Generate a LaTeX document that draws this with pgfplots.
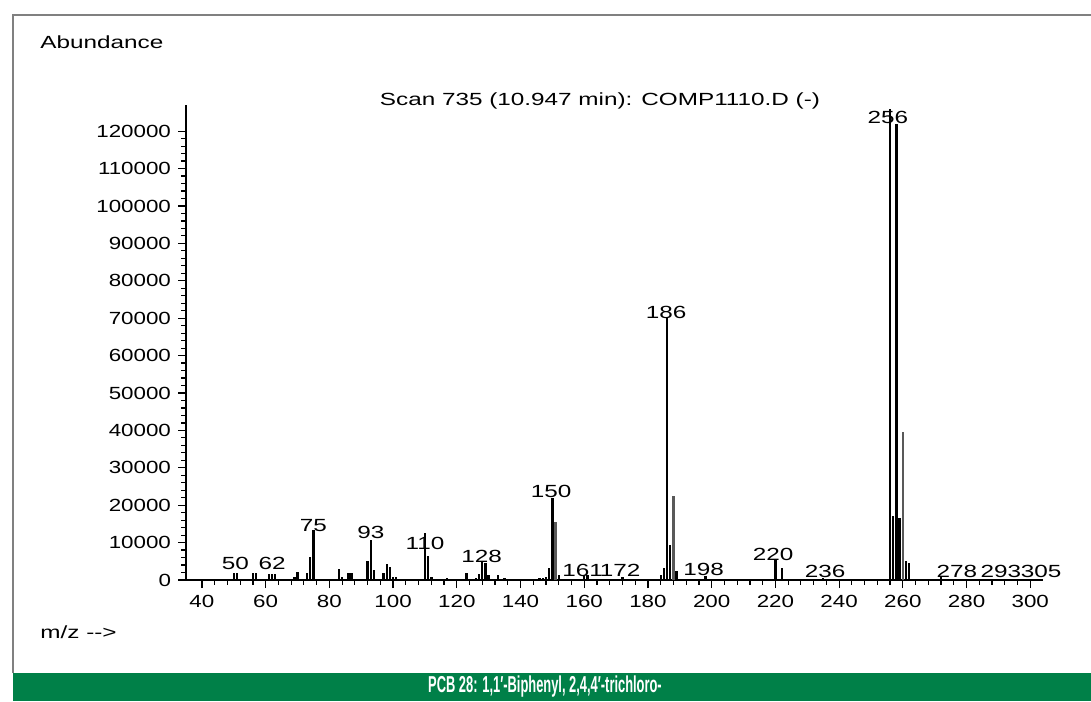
\documentclass[border=0pt]{standalone}
\usepackage{fontspec}
\setmainfont{Liberation Sans}
\usepackage{graphicx}
\usepackage{pgfplots}
\pgfplotsset{compat=1.18}
\definecolor{bannergreen}{RGB}{0,128,72}
\newcommand{\wt}[2][1.38]{\scalebox{#1}[1]{#2}}
\newcommand{\lab}{\fontsize{8.8}{10}\selectfont}

\begin{document}
\begin{tikzpicture}
  \path[use as bounding box] (0,0) rectangle (545.5pt,350.5pt);
  % frame and banner
  \fill[bannergreen] (6.5pt,0) rectangle (545.5pt,14pt);
  \draw[gray, line width=0.6pt] (6.5pt,14pt) -- (6.5pt,343pt) -- (545.5pt,343pt);
  \node[text=white, font=\bfseries\fontsize{11.5}{12}\selectfont] at (272.5pt,7.3pt)
    {\wt[0.56]{PCB 28: 1,1′-Biphenyl, 2,4,4′-trichloro-}};
  \node[anchor=west, inner sep=0pt, font=\lab] at (20pt,329.5pt) {\wt{Abundance}};
  \node[anchor=west, inner sep=0pt, font=\lab] at (20pt,34.5pt) {\wt{m/z -{}->}};
  \node[font=\lab] at (300pt,300pt) {\wt{Scan 735 (10.947 min): COMP1110.D (-)}};

  \begin{axis}[
    at={(93pt,60.5pt)}, anchor=south west, scale only axis,
    width=428.5pt, height=237.5pt,
    xmin=35, xmax=304, ymin=0, ymax=127000,
    axis x line*=bottom, axis y line*=left,
    axis line style={black, line width=0.8pt},
    xtick={40,60,...,300}, ytick={0,10000,...,120000},
    minor x tick num=4, minor y tick num=4,
    tick align=outside, major tick length=4pt, minor tick length=2.5pt,
    tick style={black, line width=0.6pt},
    tick label style={font=\lab},
    xticklabel={\wt[1.27]{\pgfmathprintnumber{\tick}}},
    yticklabel={\wt[1.27]{\pgfmathprintnumber{\tick}}},
    scaled y ticks=false,
    /pgf/number format/.cd, 1000 sep={}, fixed, assume math mode=true,
  ]
    % peaks (black)
    \addplot[ycomb, black, line width=1.2pt] coordinates {
      (50,1800) (51,1800) (56,1800) (57,1800) (61,1600) (62,1600) (63,1600)
      (69,900) (70,2100) (73,1800) (74,6200) (75,13400)
      (83,3000) (84,800) (86,1800) (87,1800)
      (92,5100) (93,10700) (94,2700) (97,2000) (98,4400) (99,3600) (100,800) (101,700)
      (110,12500) (111,6300) (112,700) (117,500)
      (123,2000) (126,600) (127,1500) (128,4900) (129,4500) (130,1400) (133,1300) (135,600)
      (146,600) (147,600) (148,800) (149,3200) (150,21900) (152,1300)
      (160,1300) (161,1300) (172,800)
      (184,1300) (185,3200) (186,70000) (187,9400) (189,2500)
      (198,1000) (220,5300) (222,3100) (230,400) (235,500)
      (256,126000) (257,17000) (258,122000) (259,16500) (261,5200) (262,4500)
      (272,700) (278,400) (293,300) (305,300)
    };
    % peaks (grey)
    \addplot[ycomb, black!65, line width=1.2pt] coordinates {
      (151,15600) (188,22400) (260,39500)
    };
    % peak labels
    \addplot[draw=none, mark=none, nodes near coords={\wt{\pgfplotspointmeta}},
      point meta=explicit symbolic,
      nodes near coords style={anchor=south, inner sep=0pt, font=\lab}] coordinates {
      (50.5,2600)[50] (62,2600)[62] (75,12800)[75] (93,11000)[93]
      (110,8000)[110] (127.8,4500)[128] (149.6,22000)[150]
      (159.5,900)[161] (171.3,900)[172] (185.7,69700)[186]
      (197.5,1000)[198] (219.3,5000)[220] (235.6,500)[236]
      (255.3,122000)[256] (277,500)[278] (290.8,500)[293] (303.4,500)[305]
    };
  \end{axis}
\end{tikzpicture}
\end{document}
